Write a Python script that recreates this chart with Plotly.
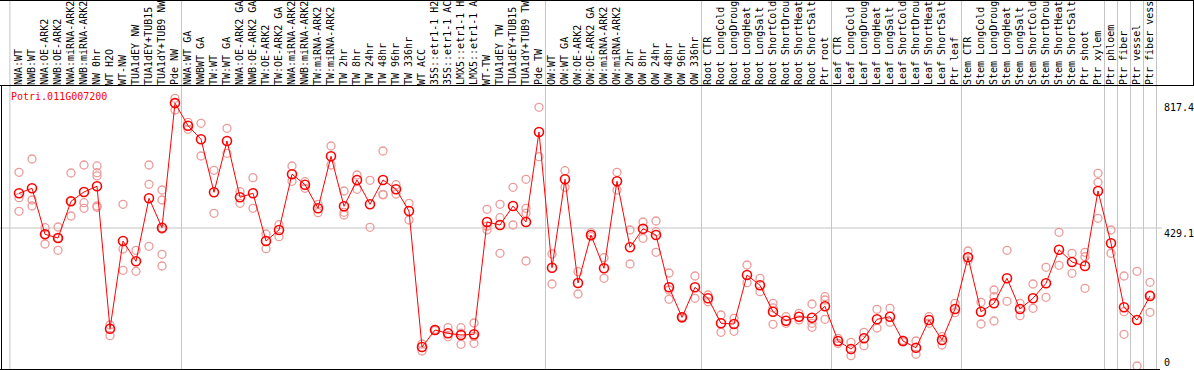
import plotly.graph_objects as go

gene = "Potri.011G007200"

categories = [
    "NWA:WT", "NWB:WT", "NWA:OE-ARK2", "NWB:OE-ARK2", "NWA:miRNA-ARK2", "NWB:miRNA-ARK2",
    "NW 0hr", "WT H2O", "WT-NW", "TUA1dEY NW", "TUA1dEY+TUB15", "TUA1dY+TUB9 NW", "Pde NW",
    "NWA:WT GA", "NWBWT GA", "TW:WT", "TW:WT GA", "NWA:OE-ARK2 GA", "NWB:OE-ARK2 GA",
    "TW:OE-ARK2", "TW:OE-ARK2 GA", "NWA:miRNA-ARK2", "NWB:miRNA-ARK2", "TW:miRNA-ARK2",
    "TW:miRNA-ARK2", "TW 2hr", "TW 8hr", "TW 24hr", "TW 48hr", "TW 96hr", "TW 336hr", "WT ACC",
    "35S::etr1-1 H2O", "35S::etr1-1 ACC", "LMX5::etr1-1 H2O", "LMX5::etr1-1 ACC", "WT-TW",
    "TUA1dEY TW", "TUA1dEY+TUB15", "TUA1dY+TUB9 TW", "Pde TW",
    "OW:WT", "OW:WT GA", "OW:OE-ARK2", "OW:OE-ARK2 GA", "OW:miRNA-ARK2", "OW:miRNA-ARK2",
    "OW 2hr", "OW 8hr", "OW 24hr", "OW 48hr", "OW 96hr", "OW 336hr",
    "Root CTR", "Root LongCold", "Root LongDrought", "Root LongHeat", "Root LongSalt",
    "Root ShortCold", "Root ShortDrought", "Root ShortHeat", "Root ShortSalt", "Ptr root",
    "Leaf CTR", "Leaf LongCold", "Leaf LongDrought", "Leaf LongHeat", "Leaf LongSalt",
    "Leaf ShortCold", "Leaf ShortDrought", "Leaf ShortHeat", "Leaf ShortSalt", "Ptr leaf",
    "Stem CTR", "Stem LongCold", "Stem LongDrought", "Stem LongHeat", "Stem LongSalt",
    "Stem ShortCold", "Stem ShortDrought", "Stem ShortHeat", "Stem ShortSalt", "Ptr shoot",
    "Ptr xylem", "Ptr phloem", "Ptr fiber", "Ptr vessel", "Ptr fiber vessel",
]

means = [
    537.0, 552.6, 409.5, 398.0, 512.1, 541.1, 558.8, 116.0, 388.7, 325.6, 521.5, 430.0, 817.4,
    747.2, 704.9, 540.1, 699.6, 524.6, 537.0, 388.7, 422.9, 596.4, 563.8, 490.4, 652.1,
    496.6, 578.4, 502.8, 578.4, 549.5, 482.0, 59.1, 111.9, 101.7, 96.4, 98.6, 447.8,
    438.4, 497.5, 447.8, 727.6,
    305.7, 580.5, 258.1, 407.3, 303.8, 574.3, 369.1, 426.9, 407.3, 244.7, 151.4, 244.7,
    210.5, 132.8, 130.6, 283.0, 250.9, 168.8, 140.9, 153.3, 150.2, 185.6,
    77.7, 52.9, 86.1, 145.2, 153.3, 77.7, 56.9, 143.0, 80.8, 177.2,
    338.0, 168.8, 195.0, 272.7, 177.2, 210.5, 257.2, 361.6, 323.4, 311.0,
    544.2, 381.5, 182.5, 143.0, 217.7,
]

replicates = [
    [602.3, 523.3, 481.0], [643.7, 516.2, 497.5], [430.0, 409.5, 379.4], [432.2, 398.0, 359.8],
    [600.1, 512.1, 466.4], [625.0, 507.8, 490.4], [622.0, 601.0, 591.0, 497.5, 493.5],
    [127.5, 94.2], [502.8, 363.8, 297.6], [359.8, 294.5], [625.0, 565.0, 372.2],
    [547.3, 516.2, 425.1, 347.3, 311.0], [832.4, 796.0],
    [757.8, 736.0], [754.7, 653.0], [608.5, 474.8], [739.1, 661.4], [542.0, 505.9],
    [585.5, 490.4], [410.5, 364.7], [439.4, 402.1], [621.9, 574.3], [573.1, 552.6],
    [502.8, 476.7], [684.1, 625.0], [544.2, 477.9, 469.5], [593.9, 549.5], [577.4, 431.3],
    [668.5, 533.9, 532.0], [563.8, 534.8], [505.9, 454.0], [68.4, 46.6], [114.1, 110.0],
    [119.1, 91.1], [119.1, 67.5, 102.0], [133.7, 70.6, 92.0], [487.3, 422.9, 435.0],
    [502.8, 461.1, 350.4], [555.7, 438.4], [580.5, 490.4, 474.8, 326.5], [804.4, 650.8],
    [348.3, 255.0], [607.3, 555.7], [293.2, 223.9], [414.5, 402.1], [336.8, 272.7],
    [602.3, 547.3], [422.9, 317.2], [447.8, 397.1], [450.9, 417.6, 353.6],
    [289.2, 236.3, 207.4], [153.3, 149.0], [279.9, 210.5],
    [220.8, 200.0], [158.6, 104.8], [148.3, 107.9], [314.1, 259.0], [272.7, 231.0],
    [195.0, 181.0, 129.7], [153.3, 132.8], [163.9, 143.0], [192.8, 132.8, 120.3],
    [215.5, 205.2, 145.2],
    [86.1, 70.0], [73.7, 32.0], [104.8, 63.1], [176.3, 118.2], [179.4, 135.9], [80.0, 75.0],
    [77.7, 36.4], [153.3, 133.0], [91.1, 65.3], [195.0, 165.7],
    [357.6, 327.4], [198.1, 130.6], [236.3, 215.5, 139.9], [359.8, 201.2], [195.0, 156.4],
    [255.0, 179.4], [306.9, 213.6], [415.7, 313.1], [350.4, 288.3], [353.6, 339.9, 241.6],
    [599.2, 571.2, 459.3], [422.9, 350.4], [279.9, 168.8, 98.6], [294.5, 0.0],
    [260.3, 220.8, 167.0],
]

# group separators, in category-index units
separators = [-0.7, 12.5, 40.5, 52.5, 62.5, 72.5, 83.5, 84.5, 85.5, 86.5, 87.5]
grid_value = 429.1
right_labels = [817.4, 429.1, 0]

W, H = 1194, 370
ML, MR, MT, MB = 0, 34, 86, 0
PW, PH = W - ML - MR, H - MT - MB
STEP = 13.0
X0PIX = 19.0
xmin = -X0PIX / STEP
xmax = xmin + PW / STEP
ymin, ymax = -12.4, 870.6

MONO = "DejaVu Sans Mono"


def px_x(p):
    return (p - ML) / PW


def px_y(p):
    return (H - MB - p) / PH


def idx_to_paper(i):
    return (i - xmin) / (xmax - xmin)


rx, ry = [], []
for i, reps in enumerate(replicates):
    for v in reps:
        rx.append(i)
        ry.append(v)

fig = go.Figure()
fig.add_trace(go.Scatter(
    x=rx, y=ry, mode="markers",
    marker=dict(symbol="circle-open", size=8, color="#ec9a9a", line=dict(width=1.3, color="#ec9a9a")),
    hoverinfo="skip", showlegend=False, cliponaxis=False,
))
fig.add_trace(go.Scatter(
    x=list(range(len(categories))), y=means, mode="lines+markers",
    line=dict(color="#ff0000", width=1),
    marker=dict(symbol="circle-open", size=9, color="#ff0000", line=dict(width=1.6, color="#ff0000")),
    showlegend=False, cliponaxis=False,
))

shapes = []
# separators (full height)
for s in separators:
    xp = idx_to_paper(s)
    shapes.append(dict(type="line", xref="paper", yref="paper", x0=xp, x1=xp,
                       y0=px_y(370), y1=px_y(0), line=dict(color="#c4c4c4", width=1), layer="below"))
# horizontal grid line
shapes.append(dict(type="line", xref="paper", yref="y", x0=0, x1=px_x(1162),
                   y0=grid_value, y1=grid_value, line=dict(color="#c4c4c4", width=1), layer="below"))
# frame lines
black = dict(color="black", width=1)
shapes.append(dict(type="line", xref="paper", yref="paper", x0=px_x(0), x1=px_x(1194),
                   y0=px_y(85.5), y1=px_y(85.5), line=black))
shapes.append(dict(type="line", xref="paper", yref="paper", x0=px_x(0), x1=px_x(1194),
                   y0=px_y(0.5), y1=px_y(0.5), line=black))
shapes.append(dict(type="line", xref="paper", yref="paper", x0=px_x(1193.5), x1=px_x(1193.5),
                   y0=px_y(0), y1=px_y(86), line=black))
shapes.append(dict(type="line", xref="paper", yref="paper", x0=px_x(1.5), x1=px_x(1.5),
                   y0=px_y(86), y1=px_y(370), line=black))
shapes.append(dict(type="line", xref="paper", yref="paper", x0=px_x(0), x1=px_x(1160),
                   y0=px_y(369.5), y1=px_y(369.5), line=black))

annotations = [dict(text=gene, x=px_x(9), y=px_y(97), xref="paper", yref="paper",
                    xanchor="left", yanchor="middle", showarrow=False,
                    font=dict(family=MONO, size=10, color="#ff0000"))]
shifts = [-4, -5, 4]
for v, sh in zip(right_labels, shifts):
    annotations.append(dict(text=f"{v:g}", x=px_x(1162), y=v, xref="paper", yref="y",
                            xanchor="left", yanchor="middle", yshift=sh, showarrow=False,
                            font=dict(family=MONO, size=10, color="black")))

fig.update_layout(
    width=W, height=H,
    margin=dict(l=ML, r=MR, t=MT, b=MB, pad=0, autoexpand=False),
    paper_bgcolor="white", plot_bgcolor="white",
    shapes=shapes, annotations=annotations,
    xaxis=dict(range=[xmin, xmax], tickmode="array", tickvals=list(range(len(categories))),
               ticktext=categories, side="top", tickangle=-90, ticks="", automargin=False,
               tickfont=dict(family=MONO, size=10, color="black"),
               showgrid=False, zeroline=False, showline=False, fixedrange=True),
    yaxis=dict(range=[ymin, ymax], showticklabels=False, showgrid=False, zeroline=False,
               showline=False, ticks="", fixedrange=True, automargin=False),
    hovermode=False,
)

fig.write_html(
    "out.html",
    config={"displayModeBar": False},
    post_script="document.body.style.margin='0';document.body.style.overflow='hidden';",
)
